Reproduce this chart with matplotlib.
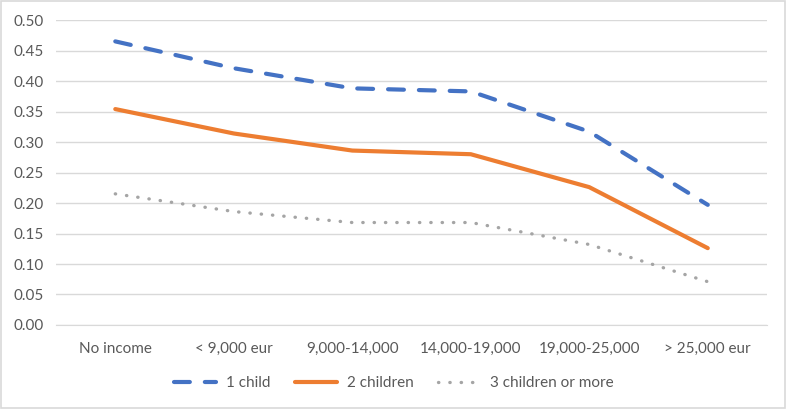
import matplotlib.pyplot as plt
from matplotlib.patches import Rectangle

categories = ["No income", "< 9,000 eur", "9,000-14,000", "14,000-19,000",
              "19,000-25,000", "> 25,000 eur"]
one_child = [0.465, 0.421, 0.388, 0.383, 0.317, 0.197]
two_children = [0.354, 0.314, 0.286, 0.280, 0.226, 0.126]
three_more = [0.215, 0.186, 0.168, 0.168, 0.132, 0.071]

TEXT = "#595959"
GRID = "#D9D9D9"

plt.rcParams["font.family"] = ["Lato", "DejaVu Sans"]

fig = plt.figure(figsize=(7.87, 4.09), dpi=100)
ax = fig.add_axes([0.0712, 0.2054, 0.9034, 0.7456])

x = range(len(categories))
ax.plot(x, one_child, color="#4472C4", lw=3, ls=(0, (3.8, 3.6)),
        dash_capstyle="round", label="1 child")
ax.plot(x, two_children, color="#ED7D31", lw=3, solid_capstyle="round",
        label="2 children")
ax.plot(x, three_more, color="#A5A5A5", lw=2.4, ls=(0, (0.1, 3.3)),
        dash_capstyle="round", label="3 children or more")

ax.set_xlim(-0.5, len(categories) - 0.5)
ax.set_ylim(0, 0.5)
ax.set_yticks([i * 0.05 for i in range(11)])
ax.set_yticklabels([f"{i * 0.05:.2f}" for i in range(11)])
ax.set_xticks(list(x))
ax.set_xticklabels(categories)
ax.grid(axis="y", color=GRID, lw=1)
ax.set_axisbelow(True)
for s in ax.spines.values():
    s.set_visible(False)
ax.spines["bottom"].set_visible(True)
ax.spines["bottom"].set_color(GRID)
ax.tick_params(axis="both", length=0, colors=TEXT, labelsize=11)
ax.tick_params(axis="y", pad=9)
ax.tick_params(axis="x", pad=12)

fig.legend(loc="center", bbox_to_anchor=(0.5, 0.063), ncol=3, frameon=False,
           fontsize=11, labelcolor=TEXT, handlelength=2.8, columnspacing=1.6,
           handletextpad=0.6)

fig.patches.append(Rectangle((0.001, 0.002), 0.997, 0.995, transform=fig.transFigure,
                             fill=False, edgecolor=GRID, lw=1.2))

fig.savefig("out.png", dpi=100, facecolor="white")
